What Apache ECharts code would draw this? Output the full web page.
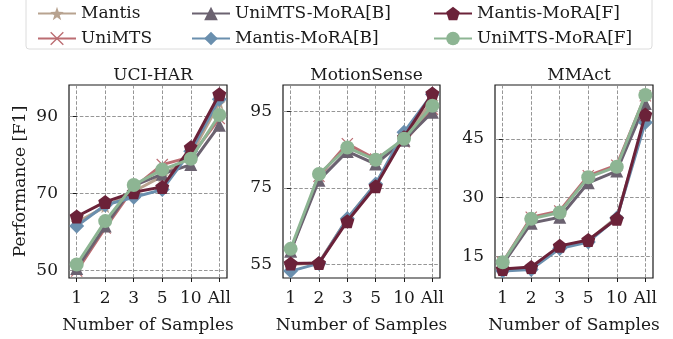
<!DOCTYPE html>
<html>
<head>
<meta charset="utf-8">
<script src="https://cdn.jsdelivr.net/npm/echarts@6/dist/echarts.min.js"></script>
<style>
  html, body { margin: 0; padding: 0; background: #fff; }
  #chart { width: 673px; height: 339px; }
</style>
</head>
<body>
<div id="chart"></div>
<script>
// x categories (number of samples)
var samples = ["1", "2", "3", "5", "10", "All"];
var datasets = ["UCI-HAR", "MotionSense", "MMAct"];
var methods = ["Mantis", "UniMTS", "UniMTS-MoRA[B]", "Mantis-MoRA[B]", "Mantis-MoRA[F]", "UniMTS-MoRA[F]"];

// UCI-HAR
var uciMantis      = [62.5, 66.5, 70.5, 74.5, 80.0, 93.5];
var uciUniMTS      = [49.8, 61.0, 71.5, 77.5, 79.5, 89.5];
var uciUniMoraB    = [50.5, 61.5, 72.0, 75.0, 77.5, 87.7];
var uciMantisMoraB = [61.5, 67.0, 69.0, 71.0, 81.0, 94.5];
var uciMantisMoraF = [64.0, 67.8, 70.3, 71.7, 82.0, 95.8];
var uciUniMoraF    = [51.5, 62.8, 72.2, 76.2, 79.0, 90.4];

// MotionSense
var msMantis      = [55.0, 55.5, 67.0, 76.0, 88.5, 97.5];
var msUniMTS      = [58.5, 78.0, 86.5, 82.5, 87.0, 95.5];
var msUniMoraB    = [58.5, 77.0, 84.5, 81.2, 87.4, 94.7];
var msMantisMoraB = [53.3, 55.3, 67.0, 76.0, 89.5, 99.4];
var msMantisMoraF = [55.3, 55.4, 66.3, 75.4, 88.2, 99.6];
var msUniMoraF    = [59.1, 78.6, 85.5, 82.3, 87.8, 96.4];

// MMAct
var mmMantis      = [11.5, 12.0, 17.5, 19.0, 25.0, 50.0];
var mmUniMTS      = [13.5, 25.0, 26.6, 35.6, 38.3, 56.0];
var mmUniMoraB    = [13.0, 23.5, 25.0, 33.8, 36.8, 54.0];
var mmMantisMoraB = [11.3, 11.7, 17.0, 18.7, 24.8, 49.2];
var mmMantisMoraF = [11.8, 12.3, 17.7, 19.2, 24.6, 51.2];
var mmUniMoraF    = [13.5, 24.6, 26.2, 35.2, 37.9, 56.2];

// y tick labels per panel
var uciTicks = [50, 70, 90];
var msTicks = [55, 75, 95];
var mmTicks = [15, 30, 45];

var panelData = [
  [uciMantis, uciUniMTS, uciUniMoraB, uciMantisMoraB, uciMantisMoraF, uciUniMoraF],
  [msMantis, msUniMTS, msUniMoraB, msMantisMoraB, msMantisMoraF, msUniMoraF],
  [mmMantis, mmUniMTS, mmUniMoraB, mmMantisMoraB, mmMantisMoraF, mmUniMoraF]
];
var panelTicks = [uciTicks, msTicks, mmTicks];
var panelRange = [[48, 98.2], [51.5, 101.8], [9.5, 58.75]];

var colors = ["#b8a390", "#bb6d72", "#6b6270", "#6a8fae", "#6b2239", "#8db593"];
var star = "path://M0,-10 L2.35,-3.24 L9.51,-3.09 L3.8,1.24 L5.88,8.09 L0,4 L-5.88,8.09 L-3.8,1.24 L-9.51,-3.09 L-2.35,-3.24 Z";
var cross = "path://M-10,-8.6 L-8.6,-10 L0,-1.4 L8.6,-10 L10,-8.6 L1.4,0 L10,8.6 L8.6,10 L0,1.4 L-8.6,10 L-10,8.6 L-1.4,0 Z";
var pentagon = "path://M0,-10 L9.51,-3.09 L5.88,8.09 L-5.88,8.09 L-9.51,-3.09 Z";
var diamond = "path://M0,-10 L10,0 L0,10 L-10,0 Z";
var symbols = [star, cross, "triangle", diamond, pentagon, "circle"];
var symSizes = [13, 12, 13, 15, 14, 14];

var font = "DejaVu Serif";
var grids = [
  { left: 69, width: 158, top: 85, height: 197 },
  { left: 283, width: 157, top: 85, height: 197 },
  { left: 495, width: 158, top: 85, height: 197 }
];

var myChart = echarts.init(document.getElementById("chart"));

var grid = [], xAxis = [], yAxis = [], title = [], series = [];
for (var p = 0; p < 3; p++) {
  grid.push(Object.assign({ show: true, borderColor: "#1a1a1a", borderWidth: 1.2, backgroundColor: "transparent" }, grids[p]));
  title.push({
    text: datasets[p],
    left: grids[p].left + grids[p].width / 2,
    top: 62,
    textAlign: "center",
    textStyle: { fontFamily: font, fontSize: 17, fontWeight: "normal", color: "#1a1a1a" }
  });
  xAxis.push({
    type: "value",
    gridIndex: p,
    min: -0.27,
    max: 5.27,
    name: "Number of Samples",
    nameLocation: "middle",
    nameGap: 39,
    nameTextStyle: { fontFamily: font, fontSize: 17, color: "#1a1a1a" },
    axisLine: { show: false },
    axisTick: { show: true, length: 4, customValues: [0, 1, 2, 3, 4, 5], lineStyle: { color: "#1a1a1a" } },
    axisLabel: {
      customValues: [0, 1, 2, 3, 4, 5],
      margin: 12,
      fontFamily: font, fontSize: 17, color: "#1a1a1a",
      formatter: function (v) { return samples[Math.round(v)]; }
    },
    splitLine: { show: true, lineStyle: { type: "dashed", color: "#8a8a8a", width: 0.9 } }
  });
  yAxis.push({
    type: "value",
    gridIndex: p,
    min: panelRange[p][0],
    max: panelRange[p][1],
    name: p === 0 ? "Performance [F1]" : "",
    nameLocation: "middle",
    nameGap: 40,
    nameTextStyle: { fontFamily: font, fontSize: 17, color: "#1a1a1a" },
    axisLine: { show: false },
    axisTick: { show: true, length: 4, customValues: panelTicks[p], lineStyle: { color: "#1a1a1a" } },
    axisLabel: { customValues: panelTicks[p], margin: 11, fontFamily: font, fontSize: 17, color: "#1a1a1a" },
    splitLine: { show: true, lineStyle: { type: "dashed", color: "#8a8a8a", width: 0.9 } }
  });
  for (var m = 0; m < methods.length; m++) {
    var vals = panelData[p][m];
    series.push({
      name: methods[m],
      type: "line",
      xAxisIndex: p,
      yAxisIndex: p,
      data: vals.map(function (v, i) { return [i, v]; }),
      symbol: symbols[m],
      symbolSize: symSizes[m],
      showAllSymbol: true,
      lineStyle: { width: 3, color: colors[m] },
      itemStyle: { color: colors[m], borderWidth: 0 },
      z: 2 + m,
      animation: false
    });
  }
}

var legendBase = {
  orient: "vertical",
  top: 0,
  itemWidth: 38,
  itemHeight: 17,
  itemGap: 8,
  textStyle: { fontFamily: font, fontSize: 17, color: "#1a1a1a" }
};
var legend = [
  Object.assign({}, legendBase, { left: 32, data: methods.slice(0, 2) }),
  Object.assign({}, legendBase, { left: 186, data: methods.slice(2, 4) }),
  Object.assign({}, legendBase, { left: 428, data: methods.slice(4, 6) })
];

var option = {
  animation: false,
  title: title,
  legend: legend,
  grid: grid,
  xAxis: xAxis,
  yAxis: yAxis,
  series: series,
  graphic: [{
    type: "rect",
    shape: { x: 26, y: -4, width: 626, height: 53, r: 3 },
    style: { fill: "rgba(255,255,255,0.8)", stroke: "#dcdcdc", lineWidth: 1 },
    z: -1
  }]
};
myChart.setOption(option, true);
</script>
</body>
</html>
